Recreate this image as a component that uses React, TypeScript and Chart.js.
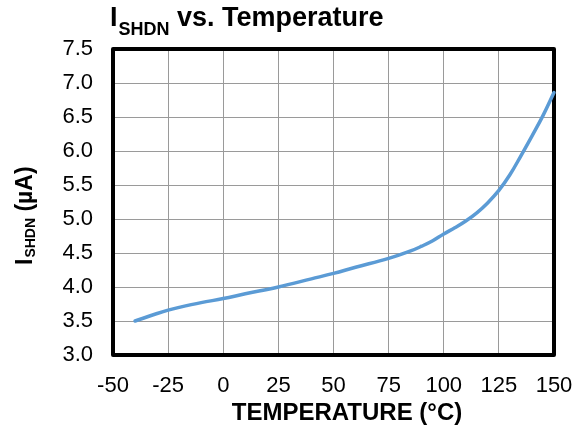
import React, { useEffect, useRef } from 'react';
import { Chart, registerables } from 'chart.js';

Chart.register(...registerables);

const temperatures = [-40, -30, -25, -20, -10, 0, 10, 25, 40, 50, 60, 75, 85, 90, 95, 100, 105, 110, 115, 120, 125, 130, 135, 140, 145, 150];
const currents = [3.5, 3.61, 3.66, 3.7, 3.77, 3.83, 3.9, 4.0, 4.12, 4.2, 4.29, 4.42, 4.53, 4.6, 4.68, 4.78, 4.87, 4.97, 5.09, 5.24, 5.42, 5.65, 5.93, 6.22, 6.52, 6.86];
const xTickValues = [-50, -25, 0, 25, 50, 75, 100, 125, 150];
const yTickValues = [3.0, 3.5, 4.0, 4.5, 5.0, 5.5, 6.0, 6.5, 7.0, 7.5];

const titleMain = 'I';
const titleSub = 'SHDN';
const titleRest = ' vs. Temperature';
const xTitle = 'TEMPERATURE (°C)';
const yTitleMain = 'I';
const yTitleSub = 'SHDN';
const yTitleRest = ' (µA)';

const FONT = '"Liberation Sans", Arial, sans-serif';

const decorPlugin = {
  id: 'decor',
  beforeDatasetsDraw(chart: any) {
    const { ctx, chartArea } = chart;
    ctx.save();
    ctx.strokeStyle = '#000000';
    ctx.lineWidth = 4;
    ctx.lineJoin = 'round';
    ctx.strokeRect(chartArea.left, chartArea.top, chartArea.right - chartArea.left, chartArea.bottom - chartArea.top);
    ctx.restore();
  },
  afterDraw(chart: any) {
    const { ctx } = chart;
    ctx.save();
    ctx.fillStyle = '#000000';
    ctx.textBaseline = 'alphabetic';
    ctx.textAlign = 'left';
    // Title
    ctx.font = `bold 27px ${FONT}`;
    let x = 110;
    ctx.fillText(titleMain, x, 26);
    x += ctx.measureText(titleMain).width + 1;
    ctx.font = `bold 18px ${FONT}`;
    ctx.fillText(titleSub, x, 35);
    x += ctx.measureText(titleSub).width;
    ctx.font = `bold 27px ${FONT}`;
    ctx.fillText(titleRest, x, 26);

    // X title
    ctx.font = `bold 24px ${FONT}`;
    ctx.textAlign = 'center';
    ctx.fillText(xTitle, 347, 420);

    // Y title (rotated)
    ctx.translate(32, 265);
    ctx.rotate(-Math.PI / 2);
    ctx.textAlign = 'left';
    ctx.font = `bold 23px ${FONT}`;
    let yx = 0;
    ctx.fillText(yTitleMain, yx, 0);
    yx += ctx.measureText(yTitleMain).width + 1;
    ctx.font = `bold 14px ${FONT}`;
    ctx.fillText(yTitleSub, yx, 3);
    yx += ctx.measureText(yTitleSub).width;
    ctx.font = `bold 23px ${FONT}`;
    ctx.fillText(yTitleRest, yx, 0);
    ctx.restore();
  },
};

export default function App() {
  const canvasRef = useRef<HTMLCanvasElement | null>(null);

  useEffect(() => {
    if (!canvasRef.current) return;
    const chart = new Chart(canvasRef.current, {
      type: 'line',
      data: {
        datasets: [
          {
            data: temperatures.map((t, i) => ({ x: t, y: currents[i] })),
            borderColor: '#5B9BD5',
            borderWidth: 3.5,
            pointRadius: 0,
            fill: false,
            tension: 0.4,
            borderCapStyle: 'round',
            clip: false,
          } as any,
        ],
      },
      options: {
        animation: false,
        responsive: false,
        devicePixelRatio: 1,
        layout: { padding: { top: 49, right: 28, left: 0, bottom: 0 } },
        plugins: {
          legend: { display: false },
          tooltip: { enabled: false },
          title: { display: false },
        },
        scales: {
          x: {
            type: 'linear',
            min: -50,
            max: 150,
            afterBuildTicks: (scale: any) => {
              scale.ticks = xTickValues.map((v) => ({ value: v }));
            },
            afterFit: (scale: any) => {
              scale.height = 75;
              scale.paddingLeft = 0;
              scale.paddingRight = 0;
            },
            ticks: {
              color: '#000000',
              font: { family: FONT, size: 22 },
              padding: 18,
              maxRotation: 0,
              autoSkip: false,
              callback: (v: any) => String(v),
            },
            grid: { color: '#9a9a9a', lineWidth: 1, drawTicks: false },
            border: { display: false },
          },
          y: {
            type: 'linear',
            min: 3,
            max: 7.5,
            afterBuildTicks: (scale: any) => {
              scale.ticks = yTickValues.map((v) => ({ value: v }));
            },
            afterFit: (scale: any) => {
              scale.width = 113;
              scale.paddingTop = 0;
              scale.paddingBottom = 0;
            },
            ticks: {
              color: '#000000',
              font: { family: FONT, size: 22 },
              padding: 20,
              autoSkip: false,
              callback: (v: any) => Number(v).toFixed(1),
            },
            grid: { color: '#9a9a9a', lineWidth: 1, drawTicks: false },
            border: { display: false },
          },
        },
      },
      plugins: [decorPlugin],
    });
    return () => chart.destroy();
  }, []);

  return (
    <div style={{ position: 'fixed', left: 0, top: 0, width: 582, height: 430, background: '#ffffff' }}>
      <canvas ref={canvasRef} width={582} height={430} style={{ display: 'block', width: 582, height: 430 }} />
    </div>
  );
}
